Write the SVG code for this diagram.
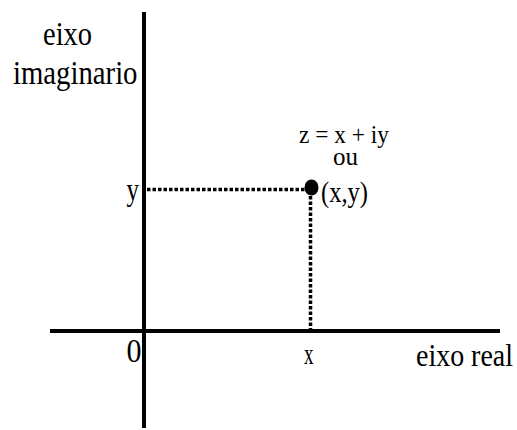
<svg xmlns="http://www.w3.org/2000/svg" width="517" height="430" viewBox="0 0 517 430">
<style>
text{font-family:"Liberation Serif","Times New Roman",serif;fill:#000}
.axis{stroke:#000;stroke-width:4;fill:none}
.dot{stroke:#000;stroke-width:3.5;stroke-dasharray:3.5 2;fill:none}
</style>
<rect width="517" height="430" fill="#fff"/>
<g id="connectors">
<line class="axis" x1="144" y1="12" x2="144" y2="428"/>
<line class="axis" x1="50" y1="331" x2="500" y2="331"/>
<line class="dot" x1="147" y1="189.5" x2="305" y2="189.5"/>
<line class="dot" x1="310.5" y1="196" x2="310.5" y2="329"/>
</g>
<g id="point"><ellipse cx="311.5" cy="187.5" rx="7" ry="8" fill="#000"/></g>
<g id="labels">
<text x="43" y="45" font-size="34" textLength="49" lengthAdjust="spacingAndGlyphs">eixo</text>
<text x="13" y="84" font-size="34" textLength="124.5" lengthAdjust="spacingAndGlyphs">imaginario</text>
<text x="299" y="143" font-size="25" textLength="90" lengthAdjust="spacingAndGlyphs">z = x + iy</text>
<text x="333" y="165" font-size="25" textLength="25" lengthAdjust="spacingAndGlyphs">ou</text>
<text x="126.5" y="200" font-size="31" textLength="12.5" lengthAdjust="spacingAndGlyphs">y</text>
<text x="321" y="201.5" font-size="30" textLength="47" lengthAdjust="spacingAndGlyphs">(x,y)</text>
<text x="126.5" y="361.5" font-size="33" textLength="15" lengthAdjust="spacingAndGlyphs">0</text>
<text x="304" y="364" font-size="30" textLength="9.5" lengthAdjust="spacingAndGlyphs">x</text>
<text x="416" y="365.5" font-size="32" textLength="97" lengthAdjust="spacingAndGlyphs">eixo real</text>
</g>
</svg>
